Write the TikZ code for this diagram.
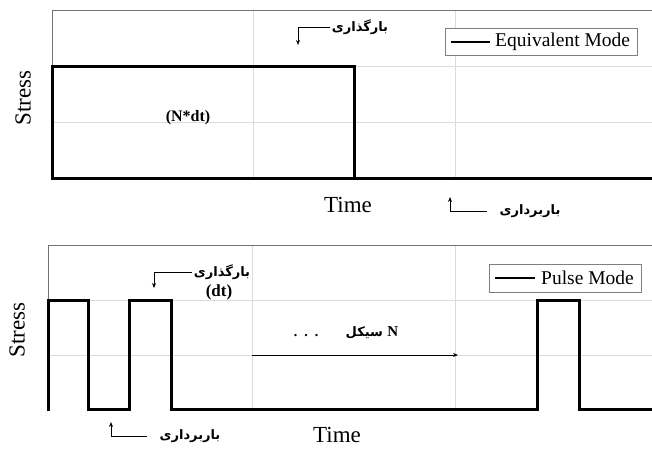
\documentclass[tikz,border=0pt]{standalone}
\usepackage{fontspec}
\setmainfont{Liberation Serif}
\newfontfamily\fafont[Script=Arabic]{DejaVu Sans}
\TeXXeTstate=1
\usetikzlibrary{arrows.meta}
\begin{document}
\begin{tikzpicture}[x=1pt,y=-1pt,
  gridln/.style={draw=black!14,line width=0.7pt},
  axfr/.style={draw=black!55,line width=1pt},
  sig/.style={draw=black,line width=3pt,line join=miter,line cap=rect},
  hookarr/.style={draw=black,line width=1pt,-{Stealth[length=5pt,width=4pt]}},
  biglbl/.style={font=\fontsize{23}{24}\selectfont,inner sep=0pt},
  legtxt/.style={font=\fontsize{19.5}{20}\selectfont,inner sep=0pt,anchor=west},
  legbox/.style={draw=black!50,line width=0.8pt,fill=white,inner sep=0pt,anchor=north west},
  faslbl/.style={font=\fafont\bfseries\fontsize{13}{14}\selectfont,inner sep=0pt},
  bldlbl/.style={font=\bfseries\fontsize{16}{17}\selectfont,inner sep=0pt}]
\useasboundingbox (0,0) rectangle (652,448);
\fill[white] (0,0) rectangle (652,448);

% ---------- top plot ----------
\draw[gridln] (253,10) -- (253,178) (455,10) -- (455,178)
  (52,66) -- (652,66) (52,122) -- (652,122);
\draw[axfr] (52,178) -- (52,10) -- (652,10);
\draw[sig] (52,178) -- (52,66) -- (354,66) -- (354,178) -- (652,178);
\draw[sig] (52,178) -- (354,178);

\node[legbox,minimum width=192pt,minimum height=27pt] (leg1) at (445,28) {};
\coordinate (l1a) at (451,42);
\coordinate (l1b) at (490,42);
\draw[line width=2.6pt] (l1a) -- (l1b);
\node[legtxt] (l1t) at (495,42) {Equivalent Mode};

\node[biglbl,rotate=90] (s1) at (23,98) {Stress};
\node[biglbl] (t1) at (348,205) {Time};
\node[bldlbl] (nd) at (188,118) {(N*dt)};

\node[faslbl] (ld1) at (360,27) {\beginR بارگذاری\endR};
\coordinate (ld1a) at (298,45);
\draw[hookarr] ([xshift=-2pt]ld1.west) -| (ld1a);

\node[faslbl] (ul1) at (530,211) {\beginR باربرداری\endR};
\coordinate (ul1a) at (450,197);
\draw[hookarr] ([xshift=-12pt]ul1.west) -| (ul1a);

% ---------- bottom plot ----------
\draw[gridln] (252,245) -- (252,409) (455,245) -- (455,409)
  (48,300) -- (652,300) (48,355) -- (652,355);
\draw[axfr] (48,409) -- (48,245) -- (652,245);
\draw[sig] (48,409) -- (48,300) -- (88,300) -- (88,409) -- (129,409) -- (129,300)
  -- (171,300) -- (171,409) -- (537,409) -- (537,300) -- (579,300) -- (579,409) -- (652,409);

\node[legbox,minimum width=152pt,minimum height=28pt] (leg2) at (489,264) {};
\coordinate (l2a) at (495,278);
\coordinate (l2b) at (535,278);
\draw[line width=1.8pt] (l2a) -- (l2b);
\node[legtxt] (l2t) at (541,278) {Pulse Mode};

\node[biglbl,rotate=90] (s2) at (17,330) {Stress};
\node[biglbl] (t2) at (337,435) {Time};

\coordinate (na) at (252,355);
\coordinate (nb) at (458,355);
\draw[hookarr] (na) -- (nb);
\node[font=\bfseries\fontsize{14}{15}\selectfont,inner sep=0pt] (dots) at (306,336) {.\ \ .\ \ .};
\node[faslbl] (nc) at (372,333) {\beginR{\rmfamily\bfseries\fontsize{15}{16}\selectfont N} سیکل\endR};

\node[faslbl] (ld2) at (222,272) {\beginR بارگذاری\endR};
\node[bldlbl,font=\bfseries\fontsize{17}{18}\selectfont] (dt) at (219,292) {(dt)};
\coordinate (ld2a) at (154,288);
\draw[hookarr] ([xshift=-2pt]ld2.west) -| (ld2a);

\node[faslbl] (ul2) at (190,436) {\beginR باربرداری\endR};
\coordinate (ul2a) at (111,422);
\draw[hookarr] ([xshift=-12pt]ul2.west) -| (ul2a);
\end{tikzpicture}
\end{document}
